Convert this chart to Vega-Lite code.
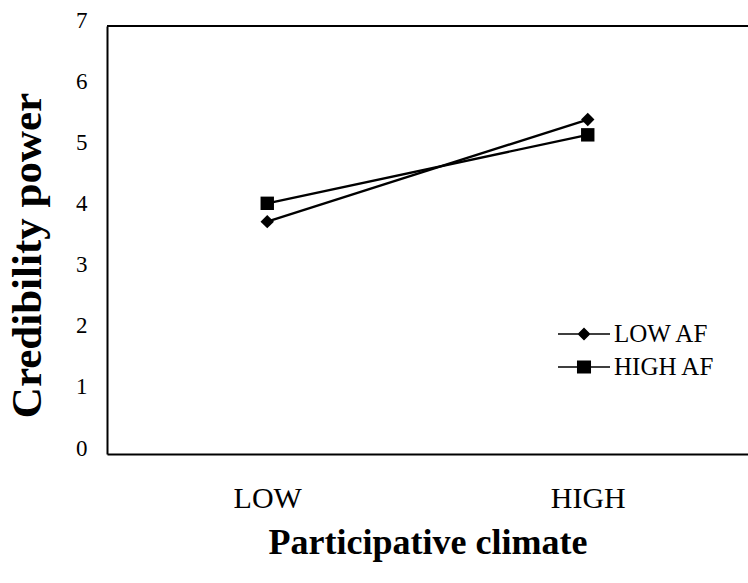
{
  "$schema": "https://vega.github.io/schema/vega-lite/v6.json",
  "width": 641,
  "height": 428,
  "autosize": {"type": "none"},
  "padding": {"left": 107, "top": 26, "right": 0, "bottom": 129},
  "background": "white",
  "config": {
    "view": {"stroke": null},
    "font": "Liberation Serif",
    "axis": {"grid": false, "ticks": false, "tickSize": 0, "domainColor": "black", "domainWidth": 2, "labelColor": "black", "titleColor": "black", "labelFont": "Liberation Serif", "titleFont": "Liberation Serif"}
  },
  "data": {
    "values": [
      {"climate": "LOW", "group": "LOW AF", "power": 3.80},
      {"climate": "HIGH", "group": "LOW AF", "power": 5.47},
      {"climate": "LOW", "group": "HIGH AF", "power": 4.10},
      {"climate": "HIGH", "group": "HIGH AF", "power": 5.22}
    ]
  },
  "encoding": {
    "x": {
      "field": "climate", "type": "nominal",
      "scale": {"type": "point", "padding": 0.5, "domain": ["LOW", "HIGH"]},
      "axis": {"title": "Participative climate", "labelAngle": 0, "labelFontSize": 30, "labelBaseline": "alphabetic", "labelPadding": 53, "titleFontSize": 36, "titleFontWeight": "bold", "titleBaseline": "alphabetic", "titleY": 99}
    },
    "y": {
      "field": "power", "type": "quantitative",
      "scale": {"domain": [0, 7], "nice": false, "zero": true},
      "axis": {"title": "Credibility power", "values": [0, 1, 2, 3, 4, 5, 6, 7], "labelFontSize": 23, "labelPadding": 20, "labelOffset": -6, "titleFontSize": 43, "titleFontWeight": "bold", "titleBaseline": "alphabetic", "titleX": -67, "titleY": 229}
    }
  },
  "resolve": {"scale": {"shape": "independent"}},
  "layer": [
    {
      "mark": {"type": "rule", "color": "black", "strokeWidth": 2},
      "encoding": {"x": null, "y": {"datum": 7, "type": "quantitative"}}
    },
    {
      "mark": {"type": "line", "color": "black", "strokeWidth": 2.4},
      "encoding": {"detail": {"field": "group", "type": "nominal"}}
    },
    {
      "mark": {"type": "point", "filled": true, "color": "black", "opacity": 1, "size": 180},
      "encoding": {
        "shape": {
          "field": "group", "type": "nominal",
          "scale": {"domain": ["LOW AF", "HIGH AF"], "range": ["diamond", "square"]},
          "legend": null
        }
      }
    },
    {
      "mark": {"type": "point", "filled": true, "color": "black", "opacity": 0, "size": 10},
      "encoding": {
        "shape": {
          "field": "group", "type": "nominal",
          "scale": {"domain": ["LOW AF", "HIGH AF"], "range": ["M-2,-0.06H2V0.06H-2ZM-0.5,0L0,-0.5L0.5,0L0,0.5Z", "M-2,-0.06H2V0.06H-2ZM-0.54,-0.5H0.54V0.5H-0.54Z"]},
          "legend": {
            "title": null,
            "orient": "none",
            "legendX": 464,
            "legendY": 295,
            "padding": 0,
            "symbolSize": 676,
            "symbolFillColor": "black",
            "symbolStrokeColor": "black",
            "symbolStrokeWidth": 0,
            "symbolOpacity": 1,
            "labelFont": "Liberation Serif",
            "labelFontSize": 25,
            "labelColor": "black",
            "labelOffset": 17,
            "rowPadding": 7
          }
        }
      }
    }
  ]
}
